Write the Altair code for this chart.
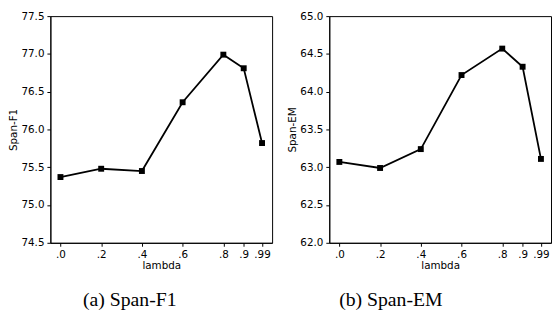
import json
import altair as alt
import pandas as pd

# ---- data ----
x_values = [0, 0.2, 0.4, 0.6, 0.8, 0.9, 0.99]
x_labels = [".0", ".2", ".4", ".6", ".8", ".9", ".99"]
span_f1 = [75.37, 75.48, 75.45, 76.36, 76.99, 76.81, 75.82]
span_em = [63.07, 62.99, 63.24, 64.22, 64.57, 64.33, 63.11]
f1_ticks = [74.5, 75.0, 75.5, 76.0, 76.5, 77.0, 77.5]
em_ticks = [62.0, 62.5, 63.0, 63.5, 64.0, 64.5, 65.0]
captions = ["(a) Span-F1", "(b) Span-EM"]

label_expr = f"{json.dumps(x_labels)}[indexof({json.dumps(x_values)}, datum.value)]"

W, H = 225, 230


def panel(values, yname, yticks, caption, dx):
    df = pd.DataFrame({"lambda": x_values, "v": values})
    x = alt.X(
        "lambda:Q",
        scale=alt.Scale(domain=[-0.0495, 1.0395], nice=False, zero=False),
        axis=alt.Axis(values=x_values, labelExpr=label_expr, title="lambda",
                      labelOverlap=False, titlePadding=1),
    )
    y = alt.Y(
        "v:Q",
        scale=alt.Scale(domain=[yticks[0], yticks[-1]], nice=False, zero=False),
        axis=alt.Axis(values=yticks, format=".1f", title=yname,
                      labelOverlap=False, titlePadding=2),
    )
    base = alt.Chart(df).encode(x=x, y=y)
    line = base.mark_line(color="black", strokeWidth=1.8)
    pts = base.mark_point(shape="square", filled=True, size=36, color="black", opacity=1)
    return alt.layer(line, pts).properties(
        width=W, height=H,
        title=alt.TitleParams(caption, orient="bottom", anchor="middle", dx=dx,
                              offset=20, font="Liberation Serif", fontSize=20,
                              fontWeight="normal", color="black"),
    )


left = panel(span_f1, "Span-F1", f1_ticks, captions[0], -32)
right = panel(span_em, "Span-EM", em_ticks, captions[1], -50)

chart = (
    alt.hconcat(left, right, spacing=58, bounds="flush")
    .resolve_scale(y="independent")
    .properties(padding={"left": 0, "top": 0, "right": 0, "bottom": 0})
    .configure_view(stroke="black", strokeWidth=1)
    .configure_axis(
        grid=False, domainColor="black", tickColor="black", tickSize=3.5,
        labelColor="black", titleColor="black", labelFont="DejaVu Sans",
        titleFont="DejaVu Sans", labelFontSize=10.5, titleFontSize=10.5,
        titleFontWeight="normal", labelPadding=3,
    )
)

chart.save("out.html", embed_options={"renderer": "svg", "actions": False})
